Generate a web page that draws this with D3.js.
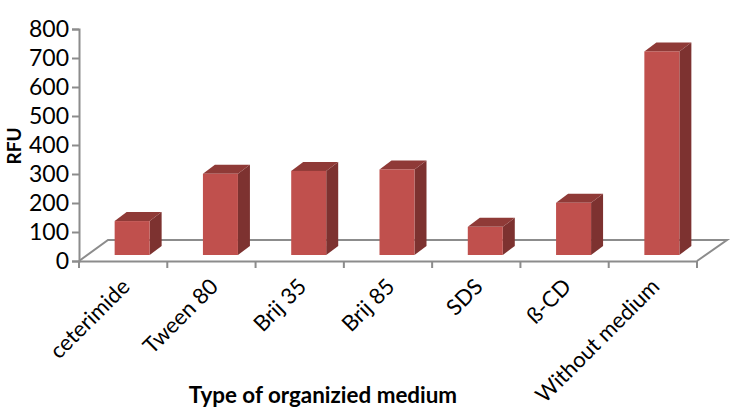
<!DOCTYPE html>
<html><head><meta charset="utf-8">
<script src="https://cdn.jsdelivr.net/npm/d3@7/dist/d3.min.js"></script>
<style>html,body{margin:0;padding:0;background:#fff}svg{display:block}</style></head>
<body><div id="chart"></div>
<script>
const categories = ["ceterimide","Tween 80","Brij 35","Brij 85","SDS","ß-CD","Without medium"];
const values = [117,280,290,295,97,180,702];
const yTicks = [0,100,200,300,400,500,600,700,800];
const yTitle = "RFU", xTitle = "Type of organizied medium";

const W=735,H=411,font="Lato, 'Open Sans', sans-serif";
const axisCol="#8c8c8c", frontCol="#c0504d", sideCol="#7d3230", topCol="#8f3a37";
const svg=d3.select("#chart").append("svg").attr("width",W).attr("height",H);
const x=d3.scaleBand().domain(categories).range([79,697]);
const y=d3.scaleLinear().domain([0,800]).range([261,29]);
const floorDx=29, floorDy=-21, depthDx=12, depthDy=-9, barW=35, barOff=9, barBaseLift=6;

// floor
svg.append("path").attr("fill","none").attr("stroke",axisCol).attr("stroke-width",2)
  .attr("d",`M${x.range()[0]},${y(0)}L${x.range()[0]+floorDx},${y(0)+floorDy}L${x.range()[1]+floorDx+1},${y(0)+floorDy}L${x.range()[1]},${y(0)}`);

// axes
const gy=svg.append("g").attr("transform","translate(79,0)")
  .call(d3.axisLeft(y).tickValues(yTicks).tickSize(7).tickPadding(3));
const gx=svg.append("g").attr("transform",`translate(0,${y(0)})`)
  .call(d3.axisBottom(x).tickSize(7).tickFormat("").tickSizeOuter(0));
gx.selectAll(".tick").remove();
gx.selectAll("line.b").data(d3.range(categories.length+1)).join("line").attr("class","b")
  .attr("x1",i=>79+i*x.bandwidth()).attr("x2",i=>79+i*x.bandwidth()).attr("y1",0).attr("y2",7);
[gy,gx].forEach(g=>{g.selectAll("path,line").attr("stroke",axisCol).attr("stroke-width",2);});
gy.selectAll("text").attr("font-family",font).attr("font-size",23).attr("fill","#000");

// bars
const bars=svg.append("g").selectAll("g").data(categories).join("g");
const L=d=>x(d)+x.bandwidth()/2+barOff-barW/2;
const B=y(0)-barBaseLift;
const T=(d,i)=>B-(y(0)-y(values[i]));
bars.append("path").attr("fill",sideCol).attr("d",(d,i)=>{const r=L(d)+barW,t=T(d,i);
  return `M${r},${t}l${depthDx},${depthDy}L${r+depthDx},${B+depthDy}L${r},${B}Z`;});
bars.append("path").attr("fill",topCol).attr("d",(d,i)=>{const l=L(d),t=T(d,i);
  return `M${l},${t}l${depthDx},${depthDy}h${barW}l${-depthDx},${-depthDy}Z`;});
bars.append("rect").attr("fill",frontCol).attr("x",L).attr("width",barW).attr("y",T).attr("height",(d,i)=>B-T(d,i));

// category labels
svg.append("g").selectAll("text").data(categories).join("text")
  .attr("text-anchor","end").attr("font-family",font).attr("font-size",22).attr("fill","#000")
  .attr("transform",d=>`translate(${x(d)+x.bandwidth()/2+8},${288}) rotate(-45)`).text(d=>d);

svg.append("text").attr("font-family",font).attr("font-size",22.4).attr("font-weight",700)
  .attr("text-anchor","middle").attr("x",323).attr("y",403).text(xTitle);
svg.append("text").attr("font-family",font).attr("font-size",19).attr("font-weight",700)
  .attr("text-anchor","middle").attr("transform","translate(21,146) rotate(-90)").text(yTitle);
</script></body></html>
